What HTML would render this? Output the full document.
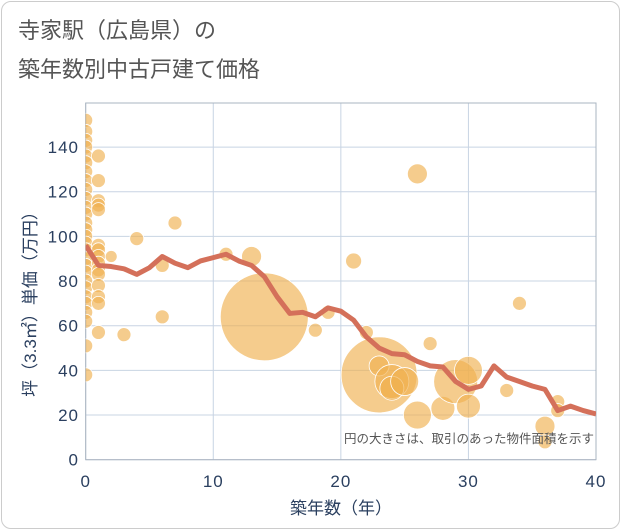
<!DOCTYPE html>
<html><head><meta charset="utf-8"><style>
body{margin:0;background:#fff;font-family:"Liberation Sans","Noto Sans CJK JP",sans-serif}
.card{position:absolute;left:1px;top:1px;width:617px;height:526px;border:1px solid #ccc;border-radius:10px;background:#fff}
</style></head><body>
<div class="card"></div>
<svg id="c" width="621" height="530" style="position:absolute;left:0;top:0">
<text x="18" y="38" font-size="22" fill="#555" font-family="Liberation Sans,Noto Sans CJK JP,sans-serif">寺家駅（広島県）の</text>
<text x="18" y="77" font-size="22" fill="#555" font-family="Liberation Sans,Noto Sans CJK JP,sans-serif">築年数別中古戸建て価格</text>
</svg>
<script>
const xTicks=[0,10,20,30,40];
const yTicks=[0,20,40,60,80,100,120,140];
const lineX=[0,1,2,3,4,5,6,7,8,9,10,11,12,13,14,15,16,17,18,19,20,21,22,23,24,25,26,27,28,29,30,31,32,33,34,35,36,37,38,39,40];
const lineY=[96,87,86.5,85.5,83,86,91,88,86,89,90.5,92,89,87,82,73,65.5,66,64,68,66.5,62.5,55,50,47.5,47,44,42,41.5,35,31.5,33,42,37,35,33,31.5,22,24,22,20.5];
const bubX=[0,0,0,0,0,0,0,0,0,0,0,0,0,0,0,0,0,0,0,0,0,0,0,0,0,0,0,0,1,1,1,1,1,1,1,1,1,1,1,1,1,1,1,2,3,4,6,6,7,11,13,14,18,19,21,22,23,23,24,24,25,26,26,27,28,29,30,30,33,34,36,36,37,37];
const bubY=[152,147,143,140,136,133,129,125,121,117,113,110,106,103,100,97,94,90,87,84,80,77,73,70,66,62,51,38,136,125,116,114,112,96,94,91,88,85,83,78,73,70,57,91,56,99,87,64,106,92,91,64,58,66,89,57,38,42,35,32,35,20,128,52,23,35,40,24,31,70,15,8,26,22];
const bubR=[7,7,7,7,7,7,7,7,7,7,7,7,7,7,7,7,7,7,7,7,7,7,7,7,7,7,7,7,7,7,7,7,7,7,7,7,7,7,7,7,7,7,7,6,7,7,7,7,7,7,10,44,7,7,8,7,38,10,17,12,14,14,10,7,12,22,14,12,7,7,10,7,7,7];
const L=85.7,R=596,T=103,B=459.7;
const sx=v=>L+(v-0)/40*(R-L);
const sy=v=>B-v*2.233;
const svg=document.getElementById('c');const NS='http://www.w3.org/2000/svg';
function mk(t,a,p){const e=document.createElementNS(NS,t);for(const k in a)e.setAttribute(k,a[k]);(p||svg).appendChild(e);return e;}
const clip=mk('clipPath',{id:'pc'});mk('rect',{x:L,y:T,width:R-L,height:B-T},clip);
for(const v of yTicks){const g=mk('line',{x1:L,x2:R,y1:sy(v),y2:sy(v),stroke:'#c8d4e3','stroke-width':1});


const t=mk('text',{x:79,y:sy(v)+6,'text-anchor':'end','font-size':17,'letter-spacing':1,fill:'#2a3f5f'});t.textContent=v;

}
for(const v of xTicks){const g=mk('line',{x1:sx(v),x2:sx(v),y1:T,y2:B,stroke:'#c8d4e3','stroke-width':1});


const t=mk('text',{x:sx(v),y:487,'text-anchor':'middle','font-size':17,'letter-spacing':1,fill:'#2a3f5f'});t.textContent=v;

}
const fr=mk('rect',{x:L,y:T,width:R-L,height:B-T,fill:'none',stroke:'#aab4c0','stroke-width':1});


const bg=mk('g',{'clip-path':'url(#pc)'});
for(let i=0;i<bubX.length;i++){const c=mk('circle',{cx:sx(bubX[i]),cy:sy(bubY[i]),r:bubR[i],fill:'#f0b050','fill-opacity':0.65,stroke:'#fff','stroke-width':0.8},bg);

}
const p=mk('polyline',{points:lineX.map((x,i)=>sx(x)+','+sy(lineY[i])).join(' '),fill:'none',stroke:'#d4705a','stroke-width':5,'stroke-linejoin':'round'},bg);


const n=mk('text',{x:594,y:443,'text-anchor':'end','font-size':12.5,fill:'#555'});n.textContent='円の大きさは、取引のあった物件面積を示す';


const xt=mk('text',{x:341,y:514,'text-anchor':'middle','font-size':17,fill:'#2a3f5f'});xt.textContent='築年数（年）';


const yt=mk('text',{x:0,y:0,'text-anchor':'middle','font-size':17,fill:'#2a3f5f',transform:'translate(36,300) rotate(-90)'});yt.textContent='坪（3.3㎡）単価（万円）';


</script>
</body></html>
